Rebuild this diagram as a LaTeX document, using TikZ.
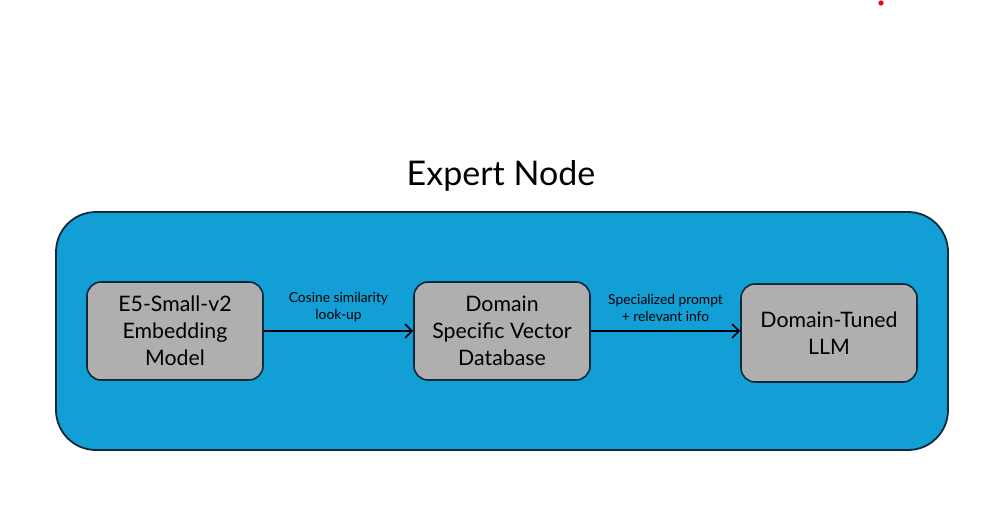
\documentclass[tikz,border=0pt]{standalone}
\usepackage{fontspec}
\setmainfont{Lato}
\usetikzlibrary{arrows.meta}
\definecolor{bgblue}{RGB}{17,159,214}
\definecolor{boxgray}{RGB}{175,175,175}
\definecolor{edge}{RGB}{12,40,58}
\tikzset{
  container/.style={draw=edge, line width=1.8pt, fill=bgblue, rounded corners=40pt},
  modelbox/.style={draw=edge, line width=1.6pt, fill=boxgray, rounded corners=14pt,
    minimum width=176pt, minimum height=98pt, align=center, inner sep=0pt,
    font=\fontsize{21.3}{27}\selectfont},
  flow/.style={line width=1.6pt, -{Straight Barb[length=7pt,width=14pt,line width=1.6pt]}},
  flowlabel/.style={align=center, font=\fontsize{13.8}{17}\selectfont, above=8.5pt, inner sep=0pt},
  title/.style={font=\fontsize{34}{40}\selectfont}
}
\begin{document}
\begin{tikzpicture}[x=1pt,y=-1pt]
\useasboundingbox (0,0) rectangle (1006,516);
\fill[red] (881,3) circle (2.6);
\node[title] (title) at (501,176) {Expert Node};
\draw[container] (56,212) rectangle (948,450);
\node[modelbox] (b1) at (175,331) {E5-Small-v2\\Embedding\\Model};
\node[modelbox] (b2) at (502,331) {Domain\\Specific Vector\\Database};
\node[modelbox] (b3) at (829,333) {Domain-Tuned\\LLM};
\draw[flow] (b1.east) -- node[flowlabel] {Cosine similarity\\look-up} (b2.west);
\draw[flow] (b2.east) -- node[flowlabel] {Specialized prompt\\+ relevant info} (b2.east -| b3.west);
\end{tikzpicture}
\end{document}
